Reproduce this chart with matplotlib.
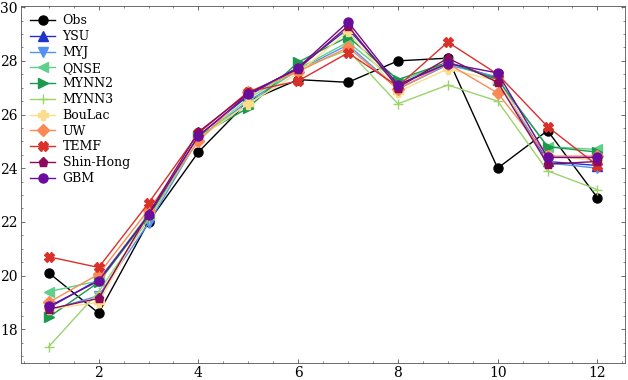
import matplotlib
matplotlib.use('Agg')
import matplotlib.pyplot as plt
from matplotlib.ticker import AutoMinorLocator, MultipleLocator

# --- data ---
months = [1, 2, 3, 4, 5, 6, 7, 8, 9, 10, 11, 12]

obs       = [20.1, 18.6, 22.0, 24.6, 26.5, 27.3, 27.2, 28.0, 28.1, 24.0, 25.4, 22.9]
ysu       = [18.8, 19.85, 22.2, 25.2, 26.7, 27.75, 29.2, 27.1, 27.95, 27.35, 24.25, 24.1]
myj       = [18.7, 19.25, 21.95, 25.1, 26.5, 27.65, 28.6, 26.95, 27.85, 27.4, 24.2, 24.0]
qnse      = [19.4, 19.8, 22.3, 25.15, 26.4, 27.7, 28.7, 27.2, 27.95, 27.3, 24.8, 24.7]
mynn2     = [18.45, 19.75, 22.2, 25.2, 26.25, 27.95, 28.9, 27.3, 27.95, 27.3, 24.8, 24.6]
mynn3     = [17.35, 19.4, 22.1, 25.1, 26.6, 27.7, 28.4, 26.4, 27.1, 26.5, 23.9, 23.2]
boulac    = [18.75, 19.0, 22.3, 25.1, 26.4, 27.55, 29.1, 26.85, 27.7, 27.25, 24.45, 24.3]
uw        = [19.0, 20.05, 22.45, 25.0, 26.85, 27.6, 28.5, 26.95, 27.9, 26.8, 24.45, 24.45]
temf      = [20.7, 20.3, 22.7, 25.3, 26.85, 27.25, 28.3, 27.05, 28.7, 27.5, 25.55, 24.1]
shinhong  = [18.75, 19.15, 22.3, 25.35, 26.8, 27.7, 29.3, 27.0, 28.1, 27.2, 24.15, 24.25]
gbm       = [18.85, 19.8, 22.25, 25.2, 26.75, 27.75, 29.45, 27.1, 27.9, 27.55, 24.4, 24.4]

labels  = ['Obs', 'YSU', 'MYJ', 'QNSE', 'MYNN2', 'MYNN3', 'BouLac', 'UW', 'TEMF', 'Shin-Hong', 'GBM']
series  = [obs, ysu, myj, qnse, mynn2, mynn3, boulac, uw, temf, shinhong, gbm]
colors  = ['black', '#2233cc', '#5590f5', '#5fcf8a', '#1b9a4e', '#9ad46a',
           '#fddc8c', '#fa8a55', '#d9302a', '#8c0a5c', '#6a0c9c']
markers = ['o', '^', 'v', '<', '>', '+', 'P', 'D', 'X', 'p', 'o']

plt.rcParams['font.family'] = 'DejaVu Serif'
plt.rcParams['mathtext.fontset'] = 'dejavuserif'

fig, ax = plt.subplots(figsize=(6.28, 3.8), dpi=100)

for y, lab, c, m in zip(series, labels, colors, markers):
    ax.plot(months, y, color=c, marker=m, markersize=6.5, linewidth=1.0, label=lab)

ax.xaxis.set_major_locator(MultipleLocator(2))
ax.yaxis.set_major_locator(MultipleLocator(2))
ax.xaxis.set_minor_locator(AutoMinorLocator(4))
ax.yaxis.set_minor_locator(AutoMinorLocator(4))
ax.tick_params(which='both', direction='in', top=True, right=True, labelsize=10,
               colors='#555555', labelcolor='black', pad=2.5)
ax.tick_params(which='major', length=3, width=0.6)
ax.tick_params(which='minor', length=1.5, width=0.5)
for s in ax.spines.values():
    s.set_linewidth(0.6)
    s.set_color('#555555')

ax.legend(loc='upper left', frameon=False, fontsize=9, labelspacing=0.22, handlelength=2.0,
          handletextpad=0.6, borderaxespad=0.3)

plt.subplots_adjust(left=0.034, right=0.995, top=0.985, bottom=0.045)
fig.savefig('out.png', dpi=100)
